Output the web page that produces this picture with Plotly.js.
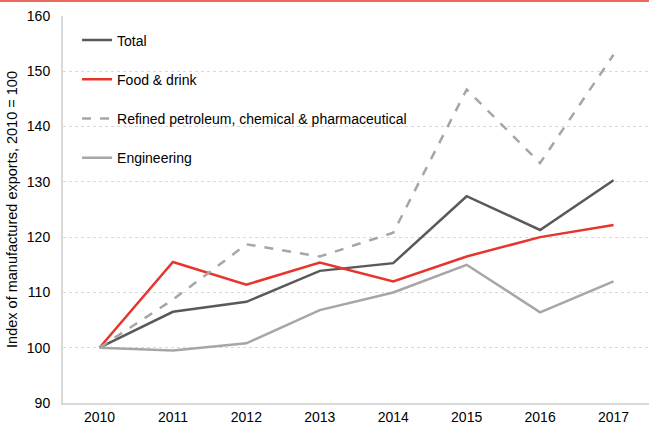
<!DOCTYPE html>
<html><head><meta charset="utf-8">
<script src="https://cdn.plot.ly/plotly-3.0.1.min.js"></script>
<style>html,body{margin:0;padding:0;background:#fff;}#topline{position:absolute;left:0;top:0;width:649px;height:2px;background:#ee6a5c;z-index:10;}</style>
</head><body>
<div id="topline"></div>
<div id="chart" style="width:649px;height:428px;"></div>
<script>
const years = [2010, 2011, 2012, 2013, 2014, 2015, 2016, 2017];
const total = [100, 106.5, 108.3, 113.9, 115.3, 127.4, 121.3, 130.3];
const foodDrink = [100, 115.5, 111.4, 115.4, 112.0, 116.5, 120.0, 122.2];
const refinedChem = [100, 108.7, 118.7, 116.5, 120.8, 146.7, 133.4, 153.0];
const engineering = [100, 99.5, 100.8, 106.8, 110.0, 115.0, 106.4, 112.0];
const seriesNames = ["Total", "Food & drink", "Refined petroleum, chemical & pharmaceutical", "Engineering"];
const yTicks = [90, 100, 110, 120, 130, 140, 150, 160];

const mk = (y, name, color, dash, g) => ({
  x: years, y: y, name: name, type: 'scatter', mode: 'lines',
  line: {color: color, width: 2.5, dash: dash}, legendgroup: g
});
const data = [
  mk(total, seriesNames[0], '#595959', 'solid', 'a'),
  mk(foodDrink, seriesNames[1], '#e8352b', 'solid', 'b'),
  mk(refinedChem, seriesNames[2], '#a6a6a6', 'dash', 'c'),
  mk(engineering, seriesNames[3], '#a6a6a6', 'solid', 'd')
];
const layout = {
  width: 649, height: 428,
  margin: {l: 63, r: 0, t: 16, b: 25},
  paper_bgcolor: '#fff', plot_bgcolor: '#fff',
  font: {family: 'Liberation Sans, Arial, sans-serif', size: 14, color: '#000'},
  showlegend: true,
  legend: {x: 0.024, y: 0.978, xanchor: 'left', yanchor: 'top', traceorder: 'grouped', tracegroupgap: 18,
           bgcolor: 'rgba(0,0,0,0)', font: {size: 14}, itemwidth: 30},
  xaxis: {range: [2009.503, 2017.483], tickvals: years, ticktext: years.map(String), showgrid: false,
          showline: true, linecolor: '#d9d9d9', linewidth: 2, ticks: '', zeroline: false,
          tickfont: {size: 14}, fixedrange: true},
  yaxis: {range: [90, 160], tickvals: yTicks, showgrid: true, gridcolor: '#d9d9d9', griddash: 'dot', gridwidth: 1,
          showline: true, linecolor: '#d9d9d9', linewidth: 2, ticks: '', zeroline: false,
          tickfont: {size: 14}, ticklabelstandoff: 8,
          title: {text: 'Index of manufactured exports, 2010 = 100', font: {size: 14.5}, standoff: 6}}
};
Plotly.newPlot('chart', data, layout, {displayModeBar: false, staticPlot: true});
</script>
</body></html>
